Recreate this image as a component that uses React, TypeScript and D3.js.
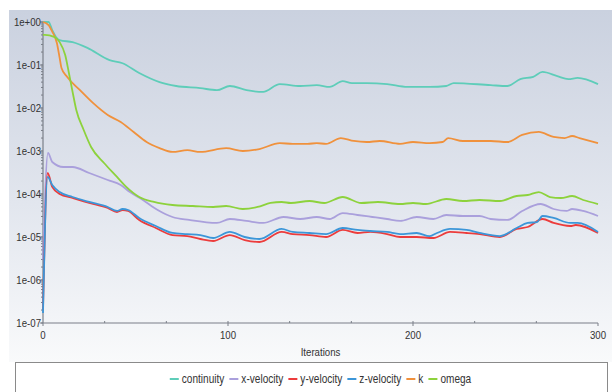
import React, { useEffect, useRef } from 'react';
import * as d3 from 'd3';

// residuals, one iteration list + value list per series
const contIter = [0, 3, 5, 7, 9, 16, 24, 36, 43, 52, 63, 72, 85, 94, 101, 110, 119, 128, 139, 148, 155, 162, 167, 175, 186, 197, 209, 218, 222, 242, 251, 258, 265, 270, 278, 284, 289, 300];
const contVal = [1, 1, 0.65, 0.45, 0.38, 0.34, 0.25, 0.13, 0.11, 0.065, 0.04, 0.0325, 0.029, 0.026, 0.0325, 0.026, 0.0236, 0.036, 0.0325, 0.034, 0.031, 0.042, 0.038, 0.038, 0.036, 0.031, 0.031, 0.0325, 0.038, 0.034, 0.0325, 0.047, 0.053, 0.069, 0.055, 0.047, 0.05, 0.036];

const xvelIter = [0, 2.7, 5, 11, 16, 25, 35, 42, 47, 54, 62, 70, 79, 94, 101, 110, 119, 130, 139, 148, 155, 162, 170, 178, 186, 193, 202, 211, 218, 227, 236, 242, 251, 259, 269, 276, 283, 286, 292, 300];
const xvelVal = [3e-6, 9e-4, 5.55e-4, 4.25e-4, 4.25e-4, 3.08e-4, 2.12e-4, 1.62e-4, 1.11e-4, 7.25e-5, 4.25e-5, 2.92e-5, 2.49e-5, 2.12e-5, 2.62e-5, 2.36e-5, 2.12e-5, 2.92e-5, 2.62e-5, 2.92e-5, 2.62e-5, 3.61e-5, 3.25e-5, 2.92e-5, 2.62e-5, 2.36e-5, 2.92e-5, 2.62e-5, 3.25e-5, 3.08e-5, 3.08e-5, 2.62e-5, 2.49e-5, 4.03e-5, 5.85e-5, 4.48e-5, 4.03e-5, 4.48e-5, 4.03e-5, 3.08e-5];

const yvelIter = [0, 2.5, 5, 9, 16, 25, 35, 40, 43, 46, 52, 61, 70, 78, 85, 92, 101, 109, 117, 129, 135, 144, 153, 162, 170, 177, 186, 193, 202, 211, 220, 229, 236, 247, 256, 262, 270, 276, 285, 288, 300];
const yvelVal = [2e-7, 3.08e-4, 1.46e-4, 1e-4, 8.07e-5, 6.18e-5, 4.72e-5, 3.81e-5, 4.25e-5, 4.03e-5, 2.49e-5, 1.62e-5, 1.11e-5, 1.05e-5, 8.98e-6, 8.07e-6, 1.11e-5, 8.51e-6, 7.65e-6, 1.31e-5, 1.17e-5, 1.11e-5, 1e-5, 1.46e-5, 1.24e-5, 1.31e-5, 1.17e-5, 1e-5, 1e-5, 9.48e-6, 1.31e-5, 1.24e-5, 1.17e-5, 1e-5, 1.54e-5, 1.71e-5, 2.62e-5, 2.12e-5, 1.8e-5, 1.9e-5, 1.24e-5];

const zvelIter = [0, 2.5, 5, 9, 16, 25, 35, 40, 43, 46, 52, 61, 70, 78, 85, 92, 101, 109, 117, 129, 135, 144, 153, 162, 170, 177, 186, 193, 202, 209, 213, 220, 229, 236, 247, 256, 262, 267, 270, 276, 285, 289, 300];
const zvelVal = [1.7e-7, 2.49e-4, 1.62e-4, 1.11e-4, 8.51e-5, 6.52e-5, 4.99e-5, 4.03e-5, 4.48e-5, 4.25e-5, 2.77e-5, 1.8e-5, 1.24e-5, 1.17e-5, 1.11e-5, 9.48e-6, 1.31e-5, 1e-5, 8.98e-6, 1.54e-5, 1.31e-5, 1.24e-5, 1.17e-5, 1.62e-5, 1.46e-5, 1.38e-5, 1.31e-5, 1.17e-5, 1.24e-5, 1.05e-5, 1.24e-5, 1.54e-5, 1.46e-5, 1.24e-5, 1.05e-5, 1.62e-5, 2.12e-5, 2.23e-5, 3.08e-5, 2.77e-5, 2.12e-5, 2.12e-5, 1.31e-5];

const kIter = [0, 3, 5, 7.5, 9, 10, 13, 20, 27, 35, 42, 49, 56, 63, 70, 78, 85, 99, 108, 117, 128, 135, 143, 148, 153, 161, 168, 175, 182, 193, 200, 209, 216, 219, 227, 242, 251, 259, 268, 276, 282, 286, 290, 300];
const kVal = [1, 0.85, 0.6, 0.325, 0.146, 0.085, 0.053, 0.026, 0.0131, 0.00687, 0.00472, 0.00277, 0.00162, 0.00117, 0.00095, 0.00105, 0.00095, 0.00117, 0.001, 0.00111, 0.00153, 0.00146, 0.00146, 0.00153, 0.00146, 0.002, 0.00171, 0.00162, 0.00171, 0.00146, 0.00162, 0.00153, 0.00162, 0.002, 0.00171, 0.00171, 0.00162, 0.00236, 0.00277, 0.00212, 0.002, 0.00223, 0.002, 0.00153];

const omegaIter = [0, 1, 6, 9, 12, 14, 16, 18, 22, 26, 33, 40, 45, 52, 60, 70, 81, 92, 99, 108, 116, 123, 129, 134, 144, 152, 162, 172, 181, 193, 200, 207, 218, 227, 236, 247, 256, 262, 268, 274, 280, 286, 292, 300];
const omegaVal = [0.5, 0.5, 0.45, 0.34, 0.17, 0.065, 0.0236, 0.00898, 0.00308, 0.00124, 5.26e-4, 2.49e-4, 1.46e-4, 8.51e-5, 6.52e-5, 5.55e-5, 5.26e-5, 4.99e-5, 5.26e-5, 4.48e-5, 4.99e-5, 6.18e-5, 6.52e-5, 6.18e-5, 6.87e-5, 6.18e-5, 8.51e-5, 6.18e-5, 6.52e-5, 5.85e-5, 6.18e-5, 5.85e-5, 7.65e-5, 6.87e-5, 7.25e-5, 6.87e-5, 8.98e-5, 9.48e-5, 1.11e-4, 8.51e-5, 8.07e-5, 8.98e-5, 7.25e-5, 5.85e-5];

const seriesNames = ['continuity', 'x-velocity', 'y-velocity', 'z-velocity', 'k', 'omega'];
const seriesColors = ['#5ecdb9', '#aaa0dc', '#ec3c3c', '#3c96d8', '#f0913c', '#8dd23c'];
const seriesIters = [contIter, xvelIter, yvelIter, zvelIter, kIter, omegaIter];
const seriesVals = [contVal, xvelVal, yvelVal, zvelVal, kVal, omegaVal];

const yTicks = [1, 1e-1, 1e-2, 1e-3, 1e-4, 1e-5, 1e-6, 1e-7];
const yTickLabels = ['1e+00', '1e-01', '1e-02', '1e-03', '1e-04', '1e-05', '1e-06', '1e-07'];
const xTicks = [0, 100, 200, 300];

const FONT = '"Liberation Sans", Arimo, sans-serif';
const NARROW = 0.84; // the original uses a condensed face

export default function App() {
  const ref = useRef<SVGSVGElement>(null);

  useEffect(() => {
    const width = 612, height = 392;
    const svg = d3.select(ref.current);
    svg.selectAll('*').remove();

    const x = d3.scaleLinear().domain([0, 300]).range([43, 598]);
    const y = d3.scaleLog().domain([1e-7, 1]).range([323, 22]);

    // narrow text helper
    const label = (parent, tx, ty, str, anchor, size) =>
      parent.append('text')
        .attr('transform', 'translate(' + tx + ',' + ty + ') scale(' + NARROW + ',1)')
        .attr('text-anchor', anchor)
        .attr('dy', '0.35em')
        .attr('font-family', FONT)
        .attr('font-size', size)
        .attr('fill', '#333')
        .text(str);

    const defs = svg.append('defs');
    const grad = defs.append('linearGradient')
      .attr('id', 'bg').attr('x1', 0).attr('y1', 0).attr('x2', 0).attr('y2', 1);
    grad.append('stop').attr('offset', '0%').attr('stop-color', '#cad1df');
    grad.append('stop').attr('offset', '55%').attr('stop-color', '#e2e6ee');
    grad.append('stop').attr('offset', '100%').attr('stop-color', '#f9fafb');

    svg.append('rect').attr('width', width).attr('height', height).attr('fill', '#fff');
    svg.append('rect')
      .attr('x', 9).attr('y', 10)
      .attr('width', width - 9).attr('height', 352)
      .attr('fill', 'url(#bg)');

    // axes
    const axisColor = '#7a7f88';
    svg.append('line')
      .attr('x1', x(0)).attr('x2', x(0)).attr('y1', y(1)).attr('y2', y(1e-7))
      .attr('stroke', axisColor).attr('stroke-width', 1.2);
    svg.append('line')
      .attr('x1', x(0)).attr('x2', x(300)).attr('y1', y(1e-7)).attr('y2', y(1e-7))
      .attr('stroke', axisColor).attr('stroke-width', 1.2);

    // log minor ticks
    svg.append('g').selectAll('line')
      .data(y.ticks())
      .enter().append('line')
      .attr('x1', x(0) - 2).attr('x2', x(0))
      .attr('y1', d => y(d)).attr('y2', d => y(d))
      .attr('stroke', axisColor).attr('stroke-width', 1);

    svg.append('g').selectAll('line')
      .data(yTicks)
      .enter().append('line')
      .attr('x1', x(0) - 3).attr('x2', x(0))
      .attr('y1', d => y(d)).attr('y2', d => y(d))
      .attr('stroke', axisColor);

    const yl = svg.append('g');
    yTicks.forEach((d, i) => label(yl, x(0) - 2, y(d), yTickLabels[i], 'end', 11.5));

    const xMinor = d3.range(1, 9).map(i => i * 100 / 3);
    svg.append('g').selectAll('line')
      .data(xMinor)
      .enter().append('line')
      .attr('x1', d => x(d)).attr('x2', d => x(d))
      .attr('y1', y(1e-7) - 2).attr('y2', y(1e-7))
      .attr('stroke', axisColor);

    svg.append('g').selectAll('line')
      .data(xTicks)
      .enter().append('line')
      .attr('x1', d => x(d)).attr('x2', d => x(d))
      .attr('y1', y(1e-7)).attr('y2', y(1e-7) + 3)
      .attr('stroke', axisColor);

    const xl = svg.append('g');
    xTicks.forEach(d => label(xl, x(d), 335, String(d), 'middle', 11.5));

    label(svg, (x(0) + x(300)) / 2, 352, 'Iterations', 'middle', 11.5);

    // residual lines
    const line = d3.line<[number, number]>()
      .x(d => x(d[0]))
      .y(d => y(d[1]))
      .curve(d3.curveMonotoneX);

    seriesNames.forEach((name, i) => {
      const pts = seriesIters[i].map((it, j) => [it, seriesVals[i][j]] as [number, number]);
      svg.append('path')
        .attr('d', line(pts))
        .attr('fill', 'none')
        .attr('stroke', seriesColors[i])
        .attr('stroke-width', 1.8)
        .attr('stroke-linejoin', 'round');
    });

    // legend
    svg.append('rect')
      .attr('x', 15.5).attr('y', 362.5)
      .attr('width', 592).attr('height', 40)
      .attr('fill', '#fff')
      .attr('stroke', '#8a8a8a');

    const lg = svg.append('g');
    let cx = 0;
    seriesNames.forEach((name, i) => {
      lg.append('line')
        .attr('x1', cx).attr('x2', cx + 9)
        .attr('y1', 379).attr('y2', 379)
        .attr('stroke', seriesColors[i]).attr('stroke-width', 2);
      const t = label(lg, cx + 12, 379, name, 'start', 12);
      const w = (t.node() as SVGTextElement).getComputedTextLength() * NARROW;
      cx += 12 + w + 5;
    });
    const total = cx - 5;
    lg.attr('transform', 'translate(' + ((x(0) + x(300)) / 2 - total / 2) + ',0)');
  }, []);

  return (
    <svg ref={ref} width={612} height={392}
      style={{ position: 'absolute', left: 0, top: 0, display: 'block' }} />
  );
}
